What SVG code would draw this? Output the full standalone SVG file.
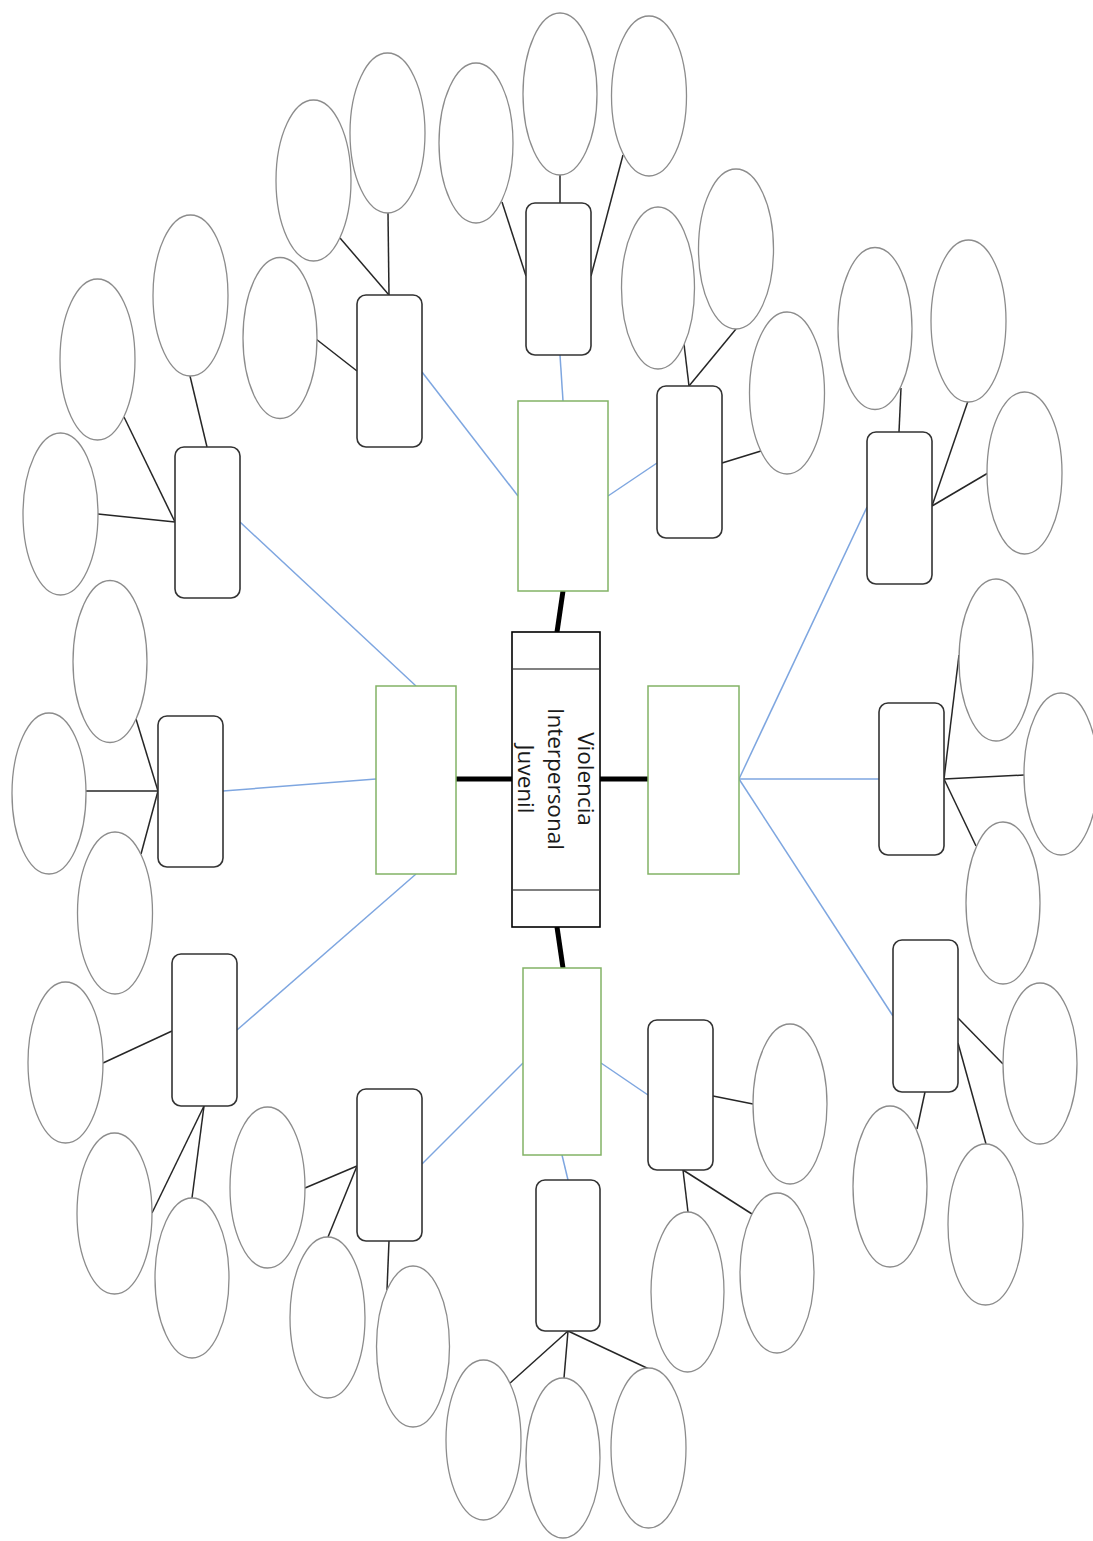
<svg xmlns="http://www.w3.org/2000/svg" width="1093" height="1541" viewBox="0 0 1093 1541">
  <style>
    .bg { fill: #ffffff; }
    .hub { fill: #ffffff; stroke: #000000; stroke-width: 1.6; }
    .hub-sep { stroke: #808080; stroke-width: 2; }
    .hub-text { font-family: "Open Sans", "Noto Sans", sans-serif; font-size: 22.5px; fill: #1a1a1a; text-anchor: middle; dominant-baseline: central; }
    .branch { fill: #ffffff; stroke: #82b366; stroke-width: 1.5; }
    .topic { fill: #ffffff; stroke: #333333; stroke-width: 1.6; }
    .leaf { fill: #ffffff; stroke: #8c8c8c; stroke-width: 1.3; }
    .thick { stroke: #000000; stroke-width: 5; fill: none; }
    .blue { stroke: #7ea6e0; stroke-width: 1.5; fill: none; }
    .thin { stroke: #262626; stroke-width: 1.5; fill: none; }
  </style>
  <rect class="bg" x="0" y="0" width="1093" height="1541"/>

  <!-- connectors -->
  <g id="connectors">
    <!-- hub to branches -->
    <line class="thick" x1="557" y1="632" x2="563" y2="591"/>
    <line class="thick" x1="557" y1="927" x2="563" y2="968"/>
    <line class="thick" x1="512" y1="779" x2="456" y2="779"/>
    <line class="thick" x1="600" y1="779" x2="648" y2="779"/>

    <!-- branches to topics -->
    <line class="blue" x1="563" y1="401" x2="560" y2="355"/>
    <line class="blue" x1="518" y1="496" x2="422" y2="372"/>
    <line class="blue" x1="608" y1="496" x2="657" y2="463"/>
    <line class="blue" x1="416" y1="686" x2="240" y2="522"/>
    <line class="blue" x1="376" y1="779" x2="223" y2="791"/>
    <line class="blue" x1="416" y1="874" x2="237" y2="1030"/>
    <line class="blue" x1="739" y1="779" x2="867" y2="507"/>
    <line class="blue" x1="739" y1="779" x2="879" y2="779"/>
    <line class="blue" x1="739" y1="779" x2="893" y2="1016"/>
    <line class="blue" x1="523" y1="1063" x2="422" y2="1164"/>
    <line class="blue" x1="601" y1="1063" x2="648" y2="1095"/>
    <line class="blue" x1="562" y1="1155" x2="568" y2="1180"/>

    <!-- topics to leaves -->
    <line class="thin" x1="526" y1="276" x2="502" y2="202"/>
    <line class="thin" x1="560" y1="203" x2="560" y2="175"/>
    <line class="thin" x1="591" y1="276" x2="623" y2="155"/>

    <line class="thin" x1="389" y1="295" x2="340" y2="238"/>
    <line class="thin" x1="389" y1="295" x2="388" y2="213"/>
    <line class="thin" x1="357" y1="371" x2="316" y2="339"/>

    <line class="thin" x1="689" y1="386" x2="684" y2="344"/>
    <line class="thin" x1="689" y1="386" x2="736" y2="329"/>
    <line class="thin" x1="722" y1="463" x2="761" y2="451"/>

    <line class="thin" x1="207" y1="447" x2="190" y2="376"/>
    <line class="thin" x1="175" y1="522" x2="124" y2="417"/>
    <line class="thin" x1="175" y1="522" x2="98" y2="514"/>

    <line class="thin" x1="158" y1="791" x2="136" y2="719"/>
    <line class="thin" x1="158" y1="791" x2="86" y2="791"/>
    <line class="thin" x1="158" y1="791" x2="141" y2="854"/>

    <line class="thin" x1="172" y1="1031" x2="103" y2="1063"/>
    <line class="thin" x1="204" y1="1106" x2="152" y2="1213"/>
    <line class="thin" x1="204" y1="1106" x2="192" y2="1198"/>

    <line class="thin" x1="357" y1="1166" x2="305" y2="1188"/>
    <line class="thin" x1="357" y1="1166" x2="328" y2="1237"/>
    <line class="thin" x1="389" y1="1241" x2="387" y2="1290"/>

    <line class="thin" x1="568" y1="1331" x2="509" y2="1384"/>
    <line class="thin" x1="568" y1="1331" x2="564" y2="1378"/>
    <line class="thin" x1="568" y1="1331" x2="649" y2="1369"/>

    <line class="thin" x1="713" y1="1096" x2="753" y2="1104"/>
    <line class="thin" x1="683" y1="1170" x2="688" y2="1212"/>
    <line class="thin" x1="683" y1="1170" x2="752" y2="1214"/>

    <line class="thin" x1="899" y1="432" x2="901" y2="388"/>
    <line class="thin" x1="932" y1="506" x2="968" y2="401"/>
    <line class="thin" x1="932" y1="506" x2="988" y2="473"/>

    <line class="thin" x1="944" y1="779" x2="959" y2="655"/>
    <line class="thin" x1="944" y1="779" x2="1024" y2="775"/>
    <line class="thin" x1="944" y1="779" x2="976" y2="846"/>

    <line class="thin" x1="958" y1="1018" x2="1003" y2="1064"/>
    <line class="thin" x1="958" y1="1043" x2="986" y2="1144"/>
    <line class="thin" x1="925" y1="1092" x2="917" y2="1129"/>
  </g>

  <!-- central node -->
  <g id="hub">
    <rect class="hub" x="512" y="632" width="88" height="295"/>
    <line class="hub-sep" x1="513" y1="669" x2="599" y2="669"/>
    <line class="hub-sep" x1="513" y1="890" x2="599" y2="890"/>
    <g transform="translate(556,779) rotate(90)">
      <text class="hub-text" x="0" y="-30">Violencia</text>
      <text class="hub-text" x="0" y="0">Interpersonal</text>
      <text class="hub-text" x="0" y="30">Juvenil</text>
    </g>
  </g>

  <!-- branch nodes -->
  <g id="branch-top"><rect class="branch" x="518" y="401" width="90" height="190"/></g>
  <g id="branch-left"><rect class="branch" x="376" y="686" width="80" height="188"/></g>
  <g id="branch-right"><rect class="branch" x="648" y="686" width="91" height="188"/></g>
  <g id="branch-bottom"><rect class="branch" x="523" y="968" width="78" height="187"/></g>

  <!-- topic nodes -->
  <g id="topic-1"><rect class="topic" x="526" y="203" width="65" height="152" rx="9"/></g>
  <g id="topic-2"><rect class="topic" x="357" y="295" width="65" height="152" rx="9"/></g>
  <g id="topic-3"><rect class="topic" x="657" y="386" width="65" height="152" rx="9"/></g>
  <g id="topic-4"><rect class="topic" x="175" y="447" width="65" height="151" rx="9"/></g>
  <g id="topic-5"><rect class="topic" x="158" y="716" width="65" height="151" rx="9"/></g>
  <g id="topic-6"><rect class="topic" x="172" y="954" width="65" height="152" rx="9"/></g>
  <g id="topic-7"><rect class="topic" x="357" y="1089" width="65" height="152" rx="9"/></g>
  <g id="topic-8"><rect class="topic" x="536" y="1180" width="64" height="151" rx="9"/></g>
  <g id="topic-9"><rect class="topic" x="648" y="1020" width="65" height="150" rx="9"/></g>
  <g id="topic-10"><rect class="topic" x="867" y="432" width="65" height="152" rx="9"/></g>
  <g id="topic-11"><rect class="topic" x="879" y="703" width="65" height="152" rx="9"/></g>
  <g id="topic-12"><rect class="topic" x="893" y="940" width="65" height="152" rx="9"/></g>

  <!-- leaf nodes -->
  <g id="leaf-1a"><ellipse class="leaf" cx="476" cy="143" rx="37" ry="80"/></g>
  <g id="leaf-1b"><ellipse class="leaf" cx="560" cy="94" rx="37" ry="81"/></g>
  <g id="leaf-1c"><ellipse class="leaf" cx="649" cy="96" rx="37.5" ry="80"/></g>

  <g id="leaf-2a"><ellipse class="leaf" cx="313.5" cy="180.5" rx="37.5" ry="80.5"/></g>
  <g id="leaf-2b"><ellipse class="leaf" cx="387.5" cy="133" rx="37.5" ry="80"/></g>
  <g id="leaf-2c"><ellipse class="leaf" cx="280" cy="338" rx="37" ry="80.5"/></g>

  <g id="leaf-3a"><ellipse class="leaf" cx="658" cy="288" rx="36.5" ry="81"/></g>
  <g id="leaf-3b"><ellipse class="leaf" cx="736" cy="249" rx="37.5" ry="80"/></g>
  <g id="leaf-3c"><ellipse class="leaf" cx="787" cy="393" rx="37.5" ry="81"/></g>

  <g id="leaf-4a"><ellipse class="leaf" cx="190.5" cy="295.5" rx="37.5" ry="80.5"/></g>
  <g id="leaf-4b"><ellipse class="leaf" cx="97.5" cy="359.5" rx="37.5" ry="80.5"/></g>
  <g id="leaf-4c"><ellipse class="leaf" cx="60.5" cy="514" rx="37.5" ry="81"/></g>

  <g id="leaf-5a"><ellipse class="leaf" cx="110" cy="661.5" rx="37" ry="81"/></g>
  <g id="leaf-5b"><ellipse class="leaf" cx="49" cy="793.5" rx="37" ry="80.5"/></g>
  <g id="leaf-5c"><ellipse class="leaf" cx="115" cy="913" rx="37.5" ry="81"/></g>

  <g id="leaf-6a"><ellipse class="leaf" cx="65.5" cy="1062.5" rx="37.5" ry="80.5"/></g>
  <g id="leaf-6b"><ellipse class="leaf" cx="114.5" cy="1213.5" rx="37.5" ry="80.5"/></g>
  <g id="leaf-6c"><ellipse class="leaf" cx="192" cy="1278" rx="37" ry="80"/></g>

  <g id="leaf-7a"><ellipse class="leaf" cx="267.5" cy="1187.5" rx="37.5" ry="80.5"/></g>
  <g id="leaf-7b"><ellipse class="leaf" cx="327.5" cy="1317.5" rx="37.5" ry="80.5"/></g>
  <g id="leaf-7c"><ellipse class="leaf" cx="413" cy="1346.5" rx="36.5" ry="80.5"/></g>

  <g id="leaf-8a"><ellipse class="leaf" cx="483.5" cy="1440" rx="37.5" ry="80"/></g>
  <g id="leaf-8b"><ellipse class="leaf" cx="563" cy="1458" rx="37" ry="80"/></g>
  <g id="leaf-8c"><ellipse class="leaf" cx="648.5" cy="1448" rx="37.5" ry="80"/></g>

  <g id="leaf-9a"><ellipse class="leaf" cx="790" cy="1104" rx="37" ry="80"/></g>
  <g id="leaf-9b"><ellipse class="leaf" cx="687.5" cy="1292" rx="36.5" ry="80"/></g>
  <g id="leaf-9c"><ellipse class="leaf" cx="777" cy="1273" rx="37" ry="80"/></g>

  <g id="leaf-10a"><ellipse class="leaf" cx="875" cy="328.5" rx="37" ry="81"/></g>
  <g id="leaf-10b"><ellipse class="leaf" cx="968.5" cy="321" rx="37.5" ry="81"/></g>
  <g id="leaf-10c"><ellipse class="leaf" cx="1024.5" cy="473" rx="37.5" ry="81"/></g>

  <g id="leaf-11a"><ellipse class="leaf" cx="996" cy="660" rx="37" ry="81"/></g>
  <g id="leaf-11b"><ellipse class="leaf" cx="1061" cy="774" rx="37" ry="81"/></g>
  <g id="leaf-11c"><ellipse class="leaf" cx="1003" cy="903" rx="37" ry="81"/></g>

  <g id="leaf-12a"><ellipse class="leaf" cx="1040" cy="1063.5" rx="37" ry="80.5"/></g>
  <g id="leaf-12b"><ellipse class="leaf" cx="890" cy="1186.5" rx="37" ry="80.5"/></g>
  <g id="leaf-12c"><ellipse class="leaf" cx="985.5" cy="1224.5" rx="37.5" ry="80.5"/></g>
</svg>
